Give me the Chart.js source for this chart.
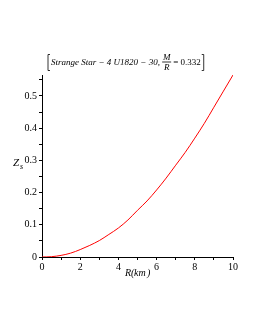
<!DOCTYPE html>
<html>
<head>
<meta charset="utf-8">
<script src="https://cdn.jsdelivr.net/npm/chart.js@4.4.0/dist/chart.umd.min.js"></script>
<style>
  html, body { margin: 0; padding: 0; background: #fff; }
  #wrap { width: 255px; height: 330px; }
</style>
</head>
<body>
<div id="wrap"><canvas id="zsChart"></canvas></div>
<script>
// radio R (km) y corrimiento al rojo superficial Z_s
const radios = [0, 0.5, 1, 1.5, 2, 2.5, 3, 3.5, 4, 4.5, 5, 5.5, 6, 6.5, 7, 7.5, 8, 8.5, 9, 9.5, 10];
const zs = [0, 0.001, 0.005, 0.012, 0.023, 0.036, 0.051, 0.07, 0.09, 0.115, 0.145, 0.174, 0.208, 0.245, 0.285, 0.325, 0.369, 0.415, 0.465, 0.515, 0.565];
const yTickLabels = [0, 0.1, 0.2, 0.3, 0.4, 0.5];
const xTickLabels = [0, 2, 4, 6, 8, 10];

const serif = '"Liberation Serif", "DejaVu Serif", serif';

// Título y etiquetas de los ejes con sub-índices y fracción
const etiquetas = {
    id: 'etiquetas',
    afterDraw(chart) {
        const c = chart.ctx;
        c.save();
        c.fillStyle = '#000';
        c.strokeStyle = '#000';
        c.textBaseline = 'alphabetic';

        // título
        c.font = 'italic 9px ' + serif;
        let x = 51;
        const base = 65;
        const parte1 = 'Strange Star \u2212 4 U1820 \u2212 30, ';
        c.textAlign = 'left';
        c.fillText(parte1, x, base);
        x += c.measureText(parte1).width;
        // fracción M/R
        c.font = 'italic 9px ' + serif;
        c.textAlign = 'center';
        c.fillText('M', x + 4.5, base - 5);
        c.fillText('R', x + 4.5, base + 5);
        c.lineWidth = 0.8;
        c.beginPath();
        c.moveTo(x, base - 3);
        c.lineTo(x + 9, base - 3);
        c.stroke();
        x += 11;
        c.font = '9px ' + serif;
        c.textAlign = 'left';
        c.fillText('= 0.332', x, base);
        x += c.measureText('= 0.332').width + 3;
        // corchetes
        c.lineWidth = 0.8;
        c.beginPath();
        c.moveTo(50, 54.5); c.lineTo(48, 54.5); c.lineTo(48, 70.5); c.lineTo(50, 70.5);
        c.moveTo(x - 2, 54.5); c.lineTo(x, 54.5); c.lineTo(x, 70.5); c.lineTo(x - 2, 70.5);
        c.stroke();

        // etiqueta eje y
        c.font = 'italic 11px ' + serif;
        c.fillText('Z', 13, 166);
        c.font = 'italic 8px ' + serif;
        c.fillText('s', 20, 169);

        // etiqueta eje x
        c.font = 'italic 10px ' + serif;
        c.textAlign = 'left';
        c.fillText('R(', 125, 276);
        c.fillText('km', 134, 276);
        c.fillText(')', 147, 276);
        c.restore();
    }
};

const ctx = document.getElementById('zsChart');
new Chart(ctx, {
    type: 'line',
    data: {
        datasets: [{
            data: radios.map((r, i) => ({ x: r, y: zs[i] })),
            borderColor: '#ff0000',
            borderWidth: 1,
            pointRadius: 0,
            fill: false,
            cubicInterpolationMode: 'monotone'
        }]
    },
    options: {
        responsive: true,
        maintainAspectRatio: false,
        animation: false,
        layout: {
            padding: { left: 0, right: 22, top: 75, bottom: 53 }
        },
        plugins: {
            legend: { display: false },
            tooltip: { enabled: false }
        },
        scales: {
            x: {
                type: 'linear',
                min: 0,
                max: 10,
                afterFit: function(scale) { scale.height = 20; },
                afterBuildTicks: function(scale) {
                    const t = [];
                    for (let v = 0; v <= 10; v++) t.push({ value: v });
                    scale.ticks = t;
                },
                border: { color: '#000', width: 1 },
                grid: {
                    drawOnChartArea: false,
                    color: '#000',
                    tickLength: 3
                },
                ticks: {
                    color: '#000',
                    padding: 1,
                    maxRotation: 0,
                    autoSkip: false,
                    font: { family: serif, size: 10 },
                    callback: function(v) { return xTickLabels.includes(v) ? String(v) : ''; }
                }
            },
            y: {
                min: 0,
                max: 0.565,
                afterFit: function(scale) { scale.width = 42; },
                afterBuildTicks: function(scale) {
                    const t = [];
                    for (let i = 0; i <= 11; i++) t.push({ value: i * 0.05 });
                    scale.ticks = t;
                },
                border: { color: '#000', width: 1 },
                grid: {
                    drawOnChartArea: false,
                    color: '#000',
                    tickLength: 3
                },
                ticks: {
                    color: '#000',
                    padding: 2,
                    autoSkip: false,
                    font: { family: serif, size: 10 },
                    callback: function(v) {
                        const r = Math.round(v * 100) / 100;
                        return yTickLabels.includes(r) ? String(r) : '';
                    }
                }
            }
        }
    },
    plugins: [etiquetas]
});
</script>
</body>
</html>
